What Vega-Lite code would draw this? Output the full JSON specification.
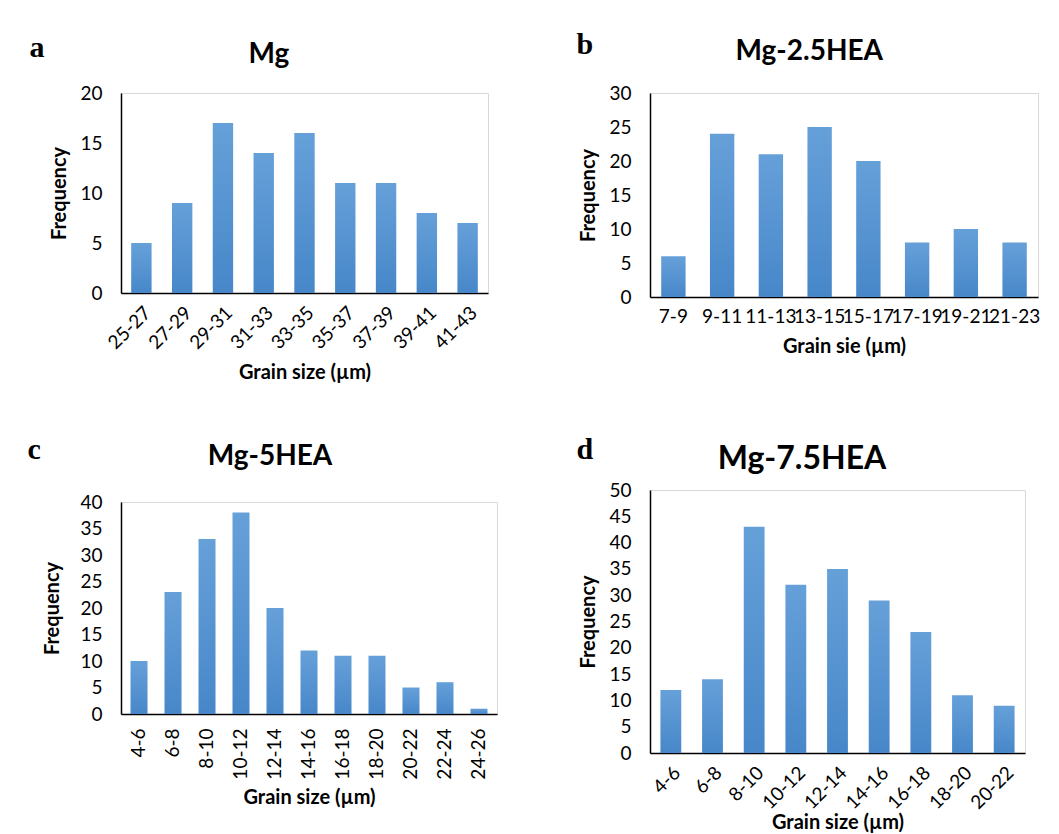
{
  "$schema": "https://vega.github.io/schema/vega-lite/v6.json",
  "background": "white",
  "padding": {"left": 27, "top": 29, "right": 5, "bottom": 0},
  "datasets": {
    "a": [
      {"bin": "25-27", "n": 5}, {"bin": "27-29", "n": 9}, {"bin": "29-31", "n": 17},
      {"bin": "31-33", "n": 14}, {"bin": "33-35", "n": 16}, {"bin": "35-37", "n": 11},
      {"bin": "37-39", "n": 11}, {"bin": "39-41", "n": 8}, {"bin": "41-43", "n": 7}
    ],
    "b": [
      {"bin": "7-9", "n": 6}, {"bin": "9-11", "n": 24}, {"bin": "11-13", "n": 21},
      {"bin": "13-15", "n": 25}, {"bin": "15-17", "n": 20}, {"bin": "17-19", "n": 8},
      {"bin": "19-21", "n": 10}, {"bin": "21-23", "n": 8}
    ],
    "c": [
      {"bin": "4-6", "n": 10}, {"bin": "6-8", "n": 23}, {"bin": "8-10", "n": 33},
      {"bin": "10-12", "n": 38}, {"bin": "12-14", "n": 20}, {"bin": "14-16", "n": 12},
      {"bin": "16-18", "n": 11}, {"bin": "18-20", "n": 11}, {"bin": "20-22", "n": 5},
      {"bin": "22-24", "n": 6}, {"bin": "24-26", "n": 1}
    ],
    "d": [
      {"bin": "4-6", "n": 12}, {"bin": "6-8", "n": 14}, {"bin": "8-10", "n": 43},
      {"bin": "10-12", "n": 32}, {"bin": "12-14", "n": 35}, {"bin": "14-16", "n": 29},
      {"bin": "16-18", "n": 23}, {"bin": "18-20", "n": 11}, {"bin": "20-22", "n": 9}
    ]
  },
  "config": {
    "font": "Lato",
    "view": {"stroke": "#d9d9d9", "strokeWidth": 1},
    "axis": {
      "grid": false, "ticks": false, "domainColor": "black", "domainWidth": 1.5,
      "labelFont": "Lato", "labelFontSize": 19, "labelColor": "black",
      "titleFont": "Lato", "titleFontSize": 20, "titleFontWeight": "bold", "titleColor": "black",
      "labelOverlap": false, "labelBound": false, "labelFlush": false
    },
    "axisY": {"labelPadding": 19},
    "title": {"font": "Lato", "fontWeight": "bold", "color": "black", "frame": "bounds"},
    "bar": {
      "color": {"gradient": "linear", "x1": 0, "y1": 0, "x2": 0, "y2": 1,
        "stops": [{"offset": 0, "color": "#66a0d9"}, {"offset": 1, "color": "#4787c9"}]}
    }
  },
  "columns": 2,
  "align": "none",
  "spacing": {"row": 50, "column": 78},
  "concat": [
    {
      "title": {"text": "a", "anchor": "start", "font": "Liberation Serif", "fontSize": 30, "fontWeight": "bold", "dx": -20, "dy": 22, "offset": 0},
      "vconcat": [
        {
          "data": {"name": "a"},
          "title": {"text": "Mg", "fontSize": 28, "offset": 15},
          "width": 367, "height": 200,
          "mark": "bar",
          "encoding": {
            "x": {"field": "bin", "type": "ordinal", "sort": null,
              "scale": {"paddingInner": 0.5, "paddingOuter": 0.25},
              "axis": {"title": "Grain size (µm)", "labelAngle": -45, "labelPadding": 10, "titlePadding": 10}},
            "y": {"field": "n", "type": "quantitative",
              "scale": {"domain": [0, 20]},
              "axis": {"title": "Frequency", "values": [0, 5, 10, 15, 20], "titlePadding": 10}}
          }
        }
      ]
    },
    {
      "title": {"text": "b", "anchor": "start", "font": "Liberation Serif", "fontSize": 30, "fontWeight": "bold", "dx": -2, "dy": 22, "offset": 0},
      "vconcat": [
        {
          "data": {"name": "b"},
          "title": {"text": "Mg-2.5HEA", "fontSize": 28, "offset": 18},
          "width": 388, "height": 204,
          "mark": "bar",
          "encoding": {
            "x": {"field": "bin", "type": "ordinal", "sort": null,
              "scale": {"paddingInner": 0.5, "paddingOuter": 0.23},
              "axis": {"title": "Grain sie (µm)", "labelAngle": 0, "labelPadding": 10, "titlePadding": 10}},
            "y": {"field": "n", "type": "quantitative",
              "scale": {"domain": [0, 30]},
              "axis": {"title": "Frequency", "values": [0, 5, 10, 15, 20, 25, 30], "titlePadding": 10}}
          }
        }
      ]
    },
    {
      "title": {"text": "c", "anchor": "start", "font": "Liberation Serif", "fontSize": 30, "fontWeight": "bold", "dx": -15, "dy": 22, "offset": 0},
      "vconcat": [
        {
          "data": {"name": "c"},
          "title": {"text": "Mg-5HEA", "fontSize": 28, "offset": 22},
          "width": 376, "height": 212,
          "mark": "bar",
          "encoding": {
            "x": {"field": "bin", "type": "ordinal", "sort": null,
              "scale": {"paddingInner": 0.5, "paddingOuter": 0.28},
              "axis": {"title": "Grain size (µm)", "labelAngle": -90, "labelPadding": 14, "titlePadding": 8}},
            "y": {"field": "n", "type": "quantitative",
              "scale": {"domain": [0, 40]},
              "axis": {"title": "Frequency", "values": [0, 5, 10, 15, 20, 25, 30, 35, 40], "titlePadding": 17}}
          }
        }
      ]
    },
    {
      "title": {"text": "d", "anchor": "start", "font": "Liberation Serif", "fontSize": 30, "fontWeight": "bold", "dx": -2, "dy": 22, "offset": 0},
      "vconcat": [
        {
          "data": {"name": "d"},
          "title": {"text": "Mg-7.5HEA", "fontSize": 32, "offset": 5},
          "width": 375, "height": 263,
          "mark": "bar",
          "encoding": {
            "x": {"field": "bin", "type": "ordinal", "sort": null,
              "scale": {"paddingInner": 0.5, "paddingOuter": 0.25},
              "axis": {"title": "Grain size (µm)", "labelAngle": -45, "labelPadding": 10, "titlePadding": 0}},
            "y": {"field": "n", "type": "quantitative",
              "scale": {"domain": [0, 50]},
              "axis": {"title": "Frequency", "values": [0, 5, 10, 15, 20, 25, 30, 35, 40, 45, 50], "titlePadding": 10}}
          }
        }
      ]
    }
  ]
}
